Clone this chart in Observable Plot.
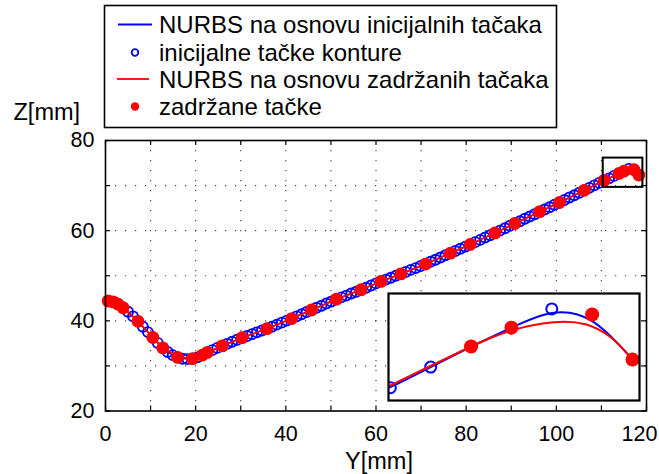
<!DOCTYPE html>
<html>
<head>
<meta charset="utf-8">
<script src="https://cdn.jsdelivr.net/npm/d3@7"></script>
<script src="https://cdn.jsdelivr.net/npm/@observablehq/plot@0.6"></script>
<style>
  html, body { margin: 0; padding: 0; background: #fff; }
  #chart { position: relative; width: 659px; height: 474px; overflow: hidden; }
  #chart > * { position: absolute; }
</style>
</head>
<body>
<div id="chart"></div>
<script>
// Initial contour points (Y, Z in mm)
const initY = [
  0.6, 1.7, 2.8, 3.9, 5.0, 6.1, 7.2, 8.3, 9.4, 10.5,
  11.6, 12.7, 13.8, 14.9, 16.0, 17.1, 18.2, 19.3, 20.4, 21.5,
  22.6, 23.7, 24.8, 25.9, 27.0, 28.1, 29.2, 30.3, 31.4, 32.5,
  33.6, 34.7, 35.8, 36.9, 38.0, 39.1, 40.2, 41.3, 42.4, 43.5,
  44.6, 45.7, 46.8, 47.9, 49.0, 50.1, 51.2, 52.3, 53.4, 54.5,
  55.6, 56.7, 57.8, 58.9, 60.0, 61.1, 62.2, 63.3, 64.4, 65.5,
  66.6, 67.7, 68.8, 69.9, 71.0, 72.1, 73.2, 74.3, 75.4, 76.5,
  77.6, 78.7, 79.8, 80.9, 82.0, 83.1, 84.2, 85.3, 86.4, 87.5,
  88.6, 89.7, 90.8, 91.9, 93.0, 94.1, 95.2, 96.3, 97.4, 98.5,
  99.6, 100.7, 101.8, 102.9, 104.0, 105.1, 106.2, 107.3, 108.4, 109.5,
  110.6, 111.7, 112.8, 113.9, 115.0, 116.1, 117.2, 118.3
];
const initZ = [
  44.4, 44.2, 43.7, 42.9, 42.0, 41.0, 39.9, 38.7, 37.5, 36.3,
  35.1, 34.0, 33.1, 32.4, 31.9, 31.6, 31.5, 31.6, 31.9, 32.4,
  33.0, 33.5, 34.0, 34.45, 34.9, 35.35, 35.8, 36.25, 36.65, 37.05,
  37.45, 37.85, 38.25, 38.7, 39.15, 39.6, 40.05, 40.5, 41.0, 41.45,
  41.95, 42.4, 42.9, 43.35, 43.85, 44.3, 44.8, 45.2, 45.6, 46.05,
  46.45, 46.9, 47.35, 47.85, 48.3, 48.75, 49.15, 49.55, 50.0, 50.4,
  50.85, 51.3, 51.7, 52.15, 52.6, 53.1, 53.55, 54.05, 54.55, 55.0,
  55.5, 56.0, 56.45, 56.95, 57.45, 57.95, 58.5, 59.0, 59.5, 60.0,
  60.55, 61.1, 61.6, 62.1, 62.65, 63.15, 63.65, 64.2, 64.7, 65.2,
  65.75, 66.25, 66.8, 67.35, 67.85, 68.4, 68.95, 69.5, 70.05, 70.6,
  71.15, 71.6, 72.15, 72.7, 73.2, 73.7, 73.55, 72.35
];

// Retained points (a subset of the initial points)
const keepY = [
  0.6, 1.7, 2.8, 3.9, 7.2, 10.5, 12.7, 16.0, 19.3, 21.5, 22.6,
  25.9, 30.3, 35.8, 41.3, 45.7, 51.2, 56.7, 61.1, 65.5, 71.0,
  76.5, 80.9, 86.4, 90.8, 96.3, 100.7, 106.2, 110.6, 113.9, 115.0,
  117.2, 118.3
];
const keepZ = [
  44.4, 44.2, 43.7, 42.9, 39.9, 36.3, 34.0, 31.9, 31.6, 32.4, 33.0,
  34.45, 36.25, 38.25, 40.5, 42.4, 44.8, 46.9, 48.75, 50.4, 52.6,
  55.0, 56.95, 59.5, 61.6, 64.2, 66.25, 68.95, 71.15, 72.7, 73.2,
  73.55, 72.35
];

// Axes
const yDomain = [0, 120];
const zDomain = [20, 80];
const yTicks = [0, 10, 20, 30, 40, 50, 60, 70, 80, 90, 100, 110, 120];
const zTicks = [20, 30, 40, 50, 60, 70, 80];
const yTickLabels = [0, 20, 40, 60, 80, 100, 120];
const zTickLabels = [20, 40, 60, 80];

// Detail window marked on the main plot, and the range shown in the inset
const boxY = [110.4, 119.2];
const boxZ = [69.6, 76.1];
const insetY = [111.65, 118.49];
const insetZ = [71.26, 74.11];

// Legend entries
const legendLabels = [
  "NURBS na osnovu inicijalnih tačaka",
  "inicijalne tačke konture",
  "NURBS na osnovu zadržanih tačaka",
  "zadržane tačke"
];

const BLUE = "#0000ff", RED = "#ff0000";
const FONT = "'Liberation Sans', Arial, Helvetica, sans-serif";

const initial = initY.map((y, i) => ({y, z: initZ[i]}));
const kept = keepY.map((y, i) => ({y, z: keepZ[i]}));

const W = 659, H = 474;
const M = {top: 140, right: 13, bottom: 63.5, left: 105};
const innerW = W - M.left - M.right;
const innerH = H - M.top - M.bottom;
const TICK = 5;
const gridStyle = {stroke: "#000", strokeOpacity: 0.75, strokeWidth: 1.1, strokeDasharray: "1.2,8.8"};
const tickStyle = {stroke: "#000", strokeWidth: 1.2};
const labelStyle = {tickSize: 0, fontSize: 21.5, fill: "#000", label: null};

const main = Plot.plot({
  width: W, height: H,
  marginTop: M.top, marginRight: M.right, marginBottom: M.bottom, marginLeft: M.left,
  style: {fontFamily: FONT, background: "white", overflow: "visible", color: "#000"},
  x: {domain: yDomain, axis: null},
  y: {domain: zDomain, axis: null},
  marks: [
    Plot.gridX(yTicks.slice(1, -1), gridStyle),
    Plot.gridY(zTicks.slice(1, -1), gridStyle),
    Plot.line(initial, {x: "y", y: "z", stroke: BLUE, strokeWidth: 1.5, curve: "basis"}),
    Plot.dot(initial, {x: "y", y: "z", r: 5, stroke: BLUE, strokeWidth: 1.9, fill: "none"}),
    Plot.line(kept, {x: "y", y: "z", stroke: RED, strokeWidth: 1.8, curve: "basis"}),
    Plot.dot(kept, {x: "y", y: "z", r: 6.4, fill: RED, stroke: "none"}),
    Plot.rect([0], {x1: () => boxY[0], x2: () => boxY[1], y1: () => boxZ[0], y2: () => boxZ[1],
      fill: "none", stroke: "#000", strokeWidth: 2}),
    // inward ticks on all four sides
    Plot.tickX(yTicks, {x: d => d, ...tickStyle, insetTop: innerH - TICK}),
    Plot.tickX(yTicks, {x: d => d, ...tickStyle, insetBottom: innerH - TICK}),
    Plot.tickY(zTicks, {y: d => d, ...tickStyle, insetRight: innerW - TICK}),
    Plot.tickY(zTicks, {y: d => d, ...tickStyle, insetLeft: innerW - TICK}),
    Plot.axisX(yTickLabels.slice(0, -1), {...labelStyle, tickPadding: 14.5}),
    Plot.axisX(yTickLabels.slice(-1), {...labelStyle, tickPadding: 14.5, dx: -7}),
    Plot.axisY(zTickLabels, {...labelStyle, tickPadding: 11}),
    Plot.frame({stroke: "#000", strokeWidth: 1.6}),
    Plot.text(["Y[mm]"], {text: d => d, frameAnchor: "bottom", dx: 3, dy: 50, lineAnchor: "middle",
      fontSize: 23.5, fill: "#000"}),
    Plot.text(["Z[mm]"], {text: d => d, frameAnchor: "top-left", textAnchor: "start", dx: -92, dy: -28,
      lineAnchor: "middle", fontSize: 23.5, fill: "#000"})
  ]
});
main.style.left = "0px";
main.style.top = "0px";

// Magnified view of the curve end
const inset = Plot.plot({
  width: 251, height: 107, margin: 0,
  style: {background: "white", overflow: "visible"},
  x: {domain: insetY, axis: null},
  y: {domain: insetZ, axis: null},
  marks: [
    Plot.line(initial, {x: "y", y: "z", stroke: BLUE, strokeWidth: 2, curve: "basis", clip: true}),
    Plot.dot(initial, {x: "y", y: "z", r: 5.5, stroke: BLUE, strokeWidth: 2, fill: "none", clip: true}),
    Plot.line(kept, {x: "y", y: "z", stroke: RED, strokeWidth: 2, curve: "basis", clip: true}),
    Plot.dot(kept, {x: "y", y: "z", r: 7, fill: RED, stroke: "none", clip: true}),
    Plot.frame({stroke: "#000", strokeWidth: 2.2})
  ]
});
inset.style.left = "388px";
inset.style.top = "293px";

// Legend box
const legend = d3.create("svg")
  .attr("width", 560).attr("height", 132)
  .style("left", "0px").style("top", "0px")
  .style("font-family", FONT);
legend.append("rect")
  .attr("x", 104.5).attr("y", 5.5).attr("width", 452).attr("height", 122)
  .attr("fill", "white").attr("stroke", "#000").attr("stroke-width", 1.6);
const rows = [24.5, 52.5, 79, 106.5];
legend.append("line").attr("x1", 118).attr("x2", 152).attr("y1", rows[0]).attr("y2", rows[0])
  .attr("stroke", BLUE).attr("stroke-width", 1.8);
legend.append("circle").attr("cx", 135).attr("cy", rows[1]).attr("r", 3.3)
  .attr("fill", "none").attr("stroke", BLUE).attr("stroke-width", 1.8);
legend.append("line").attr("x1", 117).attr("x2", 149).attr("y1", rows[2]).attr("y2", rows[2])
  .attr("stroke", RED).attr("stroke-width", 1.8);
legend.append("circle").attr("cx", 135).attr("cy", rows[3]).attr("r", 4.2).attr("fill", RED);
legend.selectAll("text.lab").data(legendLabels).join("text")
  .attr("class", "lab")
  .attr("x", 159).attr("y", (d, i) => rows[i] + 8.6)
  .attr("font-size", 24).attr("fill", "#000")
  .text(d => d);

const chart = document.getElementById("chart");
chart.append(main, inset, legend.node());
</script>
</body>
</html>
